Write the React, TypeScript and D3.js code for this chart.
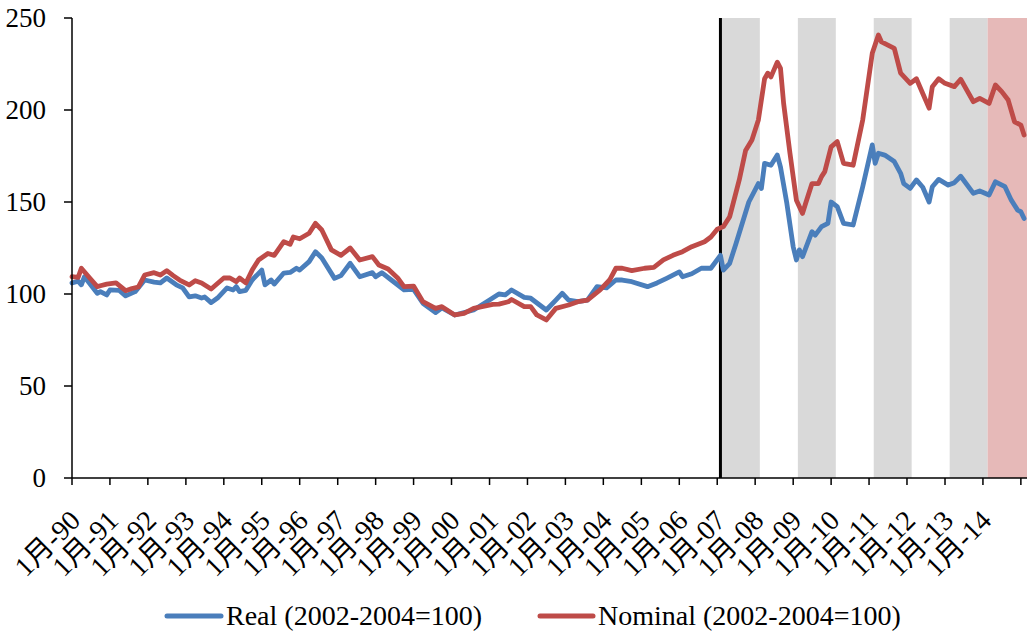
import * as d3 from "d3";

const nominalMonths = ["1990-01","1990-03","1990-04","1990-07","1990-09","1990-10","1990-12","1991-03","1991-06","1991-08","1991-10","1991-12","1992-03","1992-05","1992-07","1992-09","1992-11","1993-02","1993-04","1993-06","1993-09","1994-01","1994-03","1994-05","1994-06","1994-08","1994-10","1994-12","1995-03","1995-05","1995-08","1995-10","1995-11","1996-01","1996-04","1996-06","1996-08","1996-11","1997-02","1997-05","1997-08","1997-12","1998-02","1998-05","1998-08","1998-10","1999-01","1999-04","1999-08","1999-10","2000-02","2000-05","2000-08","2001-02","2001-04","2001-07","2001-08","2001-12","2002-02","2002-04","2002-07","2002-10","2003-02","2003-05","2003-08","2003-12","2004-03","2004-05","2004-07","2004-10","2005-02","2005-05","2005-08","2005-11","2006-02","2006-05","2006-09","2006-11","2007-01","2007-03","2007-05","2007-08","2007-10","2007-12","2008-02","2008-04","2008-05","2008-06","2008-08","2008-09","2008-10","2008-12","2009-02","2009-04","2009-05","2009-07","2009-09","2009-10","2009-11","2010-01","2010-03","2010-05","2010-08","2010-11","2011-02","2011-04","2011-05","2011-09","2011-11","2012-02","2012-04","2012-06","2012-08","2012-09","2012-11","2013-01","2013-04","2013-06","2013-10","2013-12","2014-03","2014-05","2014-07","2014-09","2014-11","2015-01","2015-02"];
const nominalValues = [109.4,109,114,108,104,104.5,105.4,106,101.8,103,103.8,110.3,111.6,110.3,112.7,110,107.6,104.9,107.2,106,102.7,108.7,108.7,106.7,108.7,106,113,118.5,122,121,128.4,127,131,130,133,138.4,134.8,124,121,125,118.5,120.3,115.8,113.6,108.7,104,104.3,95.8,92.2,93.1,88.6,89.5,92.2,94.4,94.5,95.8,97,93.1,93.1,88.6,85.9,92.2,94,95.8,96.7,102.2,107.6,114,114,112.7,114,114.5,118.5,121,123,125.7,128.4,131,135.2,136.6,142,162,178,183.7,194.6,217,220,218,226,222.6,203.6,176.5,151,143.8,149.3,160,160,163.8,166.5,180,182.8,171,170,194.6,230.8,240.8,237,233.5,220,214.5,217,209,201,212.7,217,214.5,212.7,216.7,204.5,206.3,203.6,213.6,210,205.4,193.6,191.8,186.4];

const realMonths = ["1990-01","1990-03","1990-04","1990-05","1990-09","1990-10","1990-12","1991-01","1991-04","1991-06","1991-09","1991-12","1992-03","1992-05","1992-07","1992-10","1992-12","1993-02","1993-04","1993-06","1993-07","1993-09","1993-11","1994-02","1994-04","1994-05","1994-06","1994-08","1994-10","1995-01","1995-02","1995-04","1995-05","1995-08","1995-10","1995-12","1996-01","1996-04","1996-06","1996-08","1996-12","1997-02","1997-05","1997-08","1997-12","1998-01","1998-03","1998-06","1998-10","1999-01","1999-04","1999-08","1999-10","2000-02","2000-08","2001-01","2001-04","2001-06","2001-08","2001-12","2002-02","2002-07","2002-10","2002-12","2003-02","2003-05","2003-08","2003-11","2004-02","2004-05","2004-07","2004-10","2005-03","2005-06","2005-09","2006-01","2006-02","2006-05","2006-08","2006-11","2007-02","2007-03","2007-05","2007-07","2007-11","2008-02","2008-03","2008-04","2008-06","2008-08","2008-09","2008-11","2009-01","2009-02","2009-03","2009-04","2009-07","2009-08","2009-10","2009-12","2010-01","2010-03","2010-05","2010-08","2010-11","2011-02","2011-03","2011-04","2011-06","2011-09","2011-11","2011-12","2012-02","2012-04","2012-06","2012-08","2012-09","2012-11","2013-02","2013-04","2013-06","2013-10","2013-12","2014-03","2014-05","2014-08","2014-10","2014-12","2015-01","2015-02"];
const realValues = [106,107,105,109.4,100.4,101.3,99.5,102.2,102,99,101.3,107.6,106.5,106,108.7,105,103.3,98.4,99,97.8,98.4,95.3,97.8,103.3,102.2,104,101.3,102,107.6,113,105,107.6,105.4,111.4,111.7,114,113,117.6,123,119.6,108.5,110,116.7,109.4,111.6,109.4,111.6,107.6,102.2,102.5,95,89.9,92.5,88.6,91.3,96.7,100,99.5,102.2,98.2,97.7,91.3,96.7,100.4,96.7,95.8,96.7,104,103.3,107.6,107.6,106.7,104,106,108.5,112,109.4,111,114,114,121,113,116.7,127.5,150,160,157.4,171,170,175.5,169,149.3,125.7,118.5,124,120.3,133.9,132,136.6,138.4,150,147.5,138.4,137.5,158.3,181,171,176.5,175.5,172,165.6,160,157.4,162,158,150,158.3,162.3,159.2,160.5,164,154.7,156,153.8,161,158.3,151,145.6,144.7,141];

const yTicks = [0, 50, 100, 150, 200, 250];
const grayBands = [["2007-02-15", "2008-02-15"], ["2009-02-15", "2010-02-15"], ["2011-02-15", "2012-02-15"], ["2013-02-15", "2014-02-15"]];
const pinkBand = ["2014-02-15", "2015-03-01"];
const markerDate = "2007-02-01";
const seriesNames = ["Real (2002-2004=100)", "Nominal (2002-2004=100)"];

const FONT = "'Liberation Serif', 'Noto Sans CJK SC', serif";
const BLUE = "#4a7ebb";
const RED = "#be4b48";

const parseMonth = d3.timeParse("%Y-%m");
const parseDay = d3.timeParse("%Y-%m-%d");

export default function App() {
  const width = 1028;
  const height = 633;
  const left = 72;
  const right = 1027;
  const top = 18;
  const bottom = 478;

  const x = d3
    .scaleTime()
    .domain([new Date(1990, 0, 1), new Date(2015, 2, 1)])
    .range([left, right]);
  const y = d3.scaleLinear().domain([0, 250]).range([bottom, top]);

  const line = d3
    .line<[Date, number]>()
    .x((d) => x(d[0]))
    .y((d) => y(d[1]));

  const real = realMonths.map((m, i) => [parseMonth(m)!, realValues[i]] as [Date, number]);
  const nominal = nominalMonths.map((m, i) => [parseMonth(m)!, nominalValues[i]] as [Date, number]);

  const years = d3.timeYear.range(new Date(1990, 0, 1), new Date(2015, 1, 1));
  const fmt = d3.timeFormat("%y");

  return (
    <svg
      width={width}
      height={height}
      style={{ position: "absolute", left: 0, top: 0, background: "#fff" }}
      fontFamily={FONT}
    >
      {grayBands.map(([a, b]) => (
        <rect
          key={a}
          x={x(parseDay(a)!)}
          y={top}
          width={x(parseDay(b)!) - x(parseDay(a)!)}
          height={bottom - top}
          fill="#d9d9d9"
        />
      ))}
      <rect
        x={x(parseDay(pinkBand[0])!)}
        y={top}
        width={x(parseDay(pinkBand[1])!) - x(parseDay(pinkBand[0])!)}
        height={bottom - top}
        fill="#e6b9b8"
      />

      <line
        x1={x(parseDay(markerDate)!)}
        x2={x(parseDay(markerDate)!)}
        y1={top}
        y2={bottom}
        stroke="#000"
        strokeWidth={3}
      />

      <path d={line(real)!} fill="none" stroke={BLUE} strokeWidth={4.8} strokeLinejoin="round" strokeLinecap="round" />
      <path d={line(nominal)!} fill="none" stroke={RED} strokeWidth={4.8} strokeLinejoin="round" strokeLinecap="round" />

      {/* y axis */}
      <line x1={left} x2={left} y1={top} y2={bottom} stroke="#000" strokeWidth={1.5} />
      {yTicks.map((t) => (
        <g key={t}>
          <line x1={left - 8} x2={left} y1={y(t)} y2={y(t)} stroke="#000" strokeWidth={1.5} />
          <text x={46} y={y(t)} dy="0.33em" textAnchor="end" fontSize={27} fill="#000">
            {t}
          </text>
        </g>
      ))}

      {/* x axis */}
      <line x1={left} x2={right} y1={bottom} y2={bottom} stroke="#000" strokeWidth={1.5} />
      {years.map((d) => (
        <line key={+d} x1={x(d)} x2={x(d)} y1={bottom} y2={bottom + 7} stroke="#000" strokeWidth={1.5} />
      ))}
      {years
        .filter((d) => d.getFullYear() < 2015)
        .map((d) => (
          <text
            key={+d}
            transform={`translate(${x(d) + 10},${bottom + 44}) rotate(-45)`}
            textAnchor="end"
            fontSize={28}
            fill="#000"
          >
            {`1月-${fmt(d)}`}
          </text>
        ))}

      {/* legend */}
      <line x1={167} x2={221} y1={616} y2={616} stroke={BLUE} strokeWidth={5} strokeLinecap="round" />
      <text x={226} y={625} fontSize={28} fill="#000">
        {seriesNames[0]}
      </text>
      <line x1={540} x2={593} y1={616} y2={616} stroke={RED} strokeWidth={5} strokeLinecap="round" />
      <text x={598} y={625} fontSize={28} fill="#000">
        {seriesNames[1]}
      </text>
    </svg>
  );
}
